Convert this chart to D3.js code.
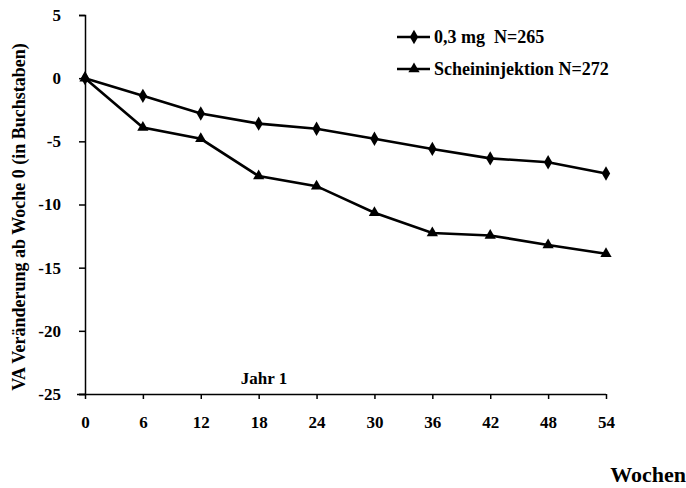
<!DOCTYPE html>
<html lang="de">
<head>
<meta charset="utf-8">
<title>VA Veränderung</title>
<script src="https://d3js.org/d3.v7.min.js"></script>
<style>
  body { margin: 0; background: #fff; }
  svg text { font-family: "Liberation Serif", "Times New Roman", serif; font-weight: bold; fill: #000; white-space: pre; }
</style>
</head>
<body>
<div id="chart"></div>
<script>
// data
const weeks = [0, 6, 12, 18, 24, 30, 36, 42, 48, 54];
const dose03 = [0, -1.4, -2.8, -3.6, -4.0, -4.8, -5.6, -6.35, -6.65, -7.55];
const sham = [0, -3.9, -4.8, -7.75, -8.55, -10.65, -12.25, -12.45, -13.2, -13.9];
const yTicks = [5, 0, -5, -10, -15, -20, -25];
const seriesNames = ["0,3 mg  N=265", "Scheininjektion N=272"];

const W = 686, H = 488;
const svg = d3.select("#chart").append("svg")
  .attr("width", W).attr("height", H);

const x = d3.scaleLinear().domain([0, 54]).range([85, 606]);
const y = d3.scaleLinear().domain([-25, 5]).range([394, 15]);

// y axis
const yAxis = svg.append("g")
  .attr("transform", "translate(85,0)")
  .call(d3.axisLeft(y).tickValues(yTicks).tickSize(6).tickPadding(18).tickFormat(d => String(d)));
yAxis.selectAll("text").style("font-size", "17px");

// x axis
const xAxis = svg.append("g")
  .attr("transform", "translate(0,394)")
  .call(d3.axisBottom(x).tickValues(weeks).tickSize(5).tickPadding(17).tickSizeOuter(0));
xAxis.selectAll("text").style("font-size", "17px");
xAxis.select(".domain").attr("d", "M77,0.5H606");

svg.selectAll(".domain, .tick line").attr("stroke", "#000").attr("stroke-width", 1.5);

// axis titles
svg.append("text")
  .attr("transform", "translate(25,217) rotate(-90)")
  .attr("text-anchor", "middle")
  .style("font-size", "18px")
  .text("VA Veränderung ab Woche 0 (in Buchstaben)");

svg.append("text")
  .attr("x", 686).attr("y", 482)
  .attr("text-anchor", "end")
  .style("font-size", "22px")
  .text("Wochen");

svg.append("text")
  .attr("x", 264).attr("y", 384)
  .attr("text-anchor", "middle")
  .style("font-size", "17px")
  .text("Jahr 1");

const line = d3.line()
  .x((d, i) => x(weeks[i]))
  .y(d => y(d));

const diamond = d3.symbol().type(d3.symbolDiamond).size(60);
const triangle = d3.symbol().type(d3.symbolTriangle).size(55);

const series = [
  { name: seriesNames[0], values: dose03, sym: diamond },
  { name: seriesNames[1], values: sham, sym: triangle }
];

series.forEach(s => {
  svg.append("path")
    .datum(s.values)
    .attr("fill", "none")
    .attr("stroke", "#000")
    .attr("stroke-width", 2.6)
    .attr("d", line);
  svg.selectAll(null)
    .data(s.values)
    .join("path")
    .attr("transform", (d, i) => `translate(${x(weeks[i])},${y(d)})`)
    .attr("d", s.sym)
    .attr("fill", "#000");
});

// legend
const legend = svg.append("g");
series.forEach((s, i) => {
  const ly = 37 + i * 32;
  legend.append("line")
    .attr("x1", 397).attr("x2", 430)
    .attr("y1", ly).attr("y2", ly)
    .attr("stroke", "#000").attr("stroke-width", 2.6);
  legend.append("path")
    .attr("transform", `translate(414,${ly})`)
    .attr("d", s.sym)
    .attr("fill", "#000");
  legend.append("text")
    .attr("x", 434).attr("y", ly + 6)
    .style("font-size", "18px")
    .text(s.name);
});
</script>
</body>
</html>
